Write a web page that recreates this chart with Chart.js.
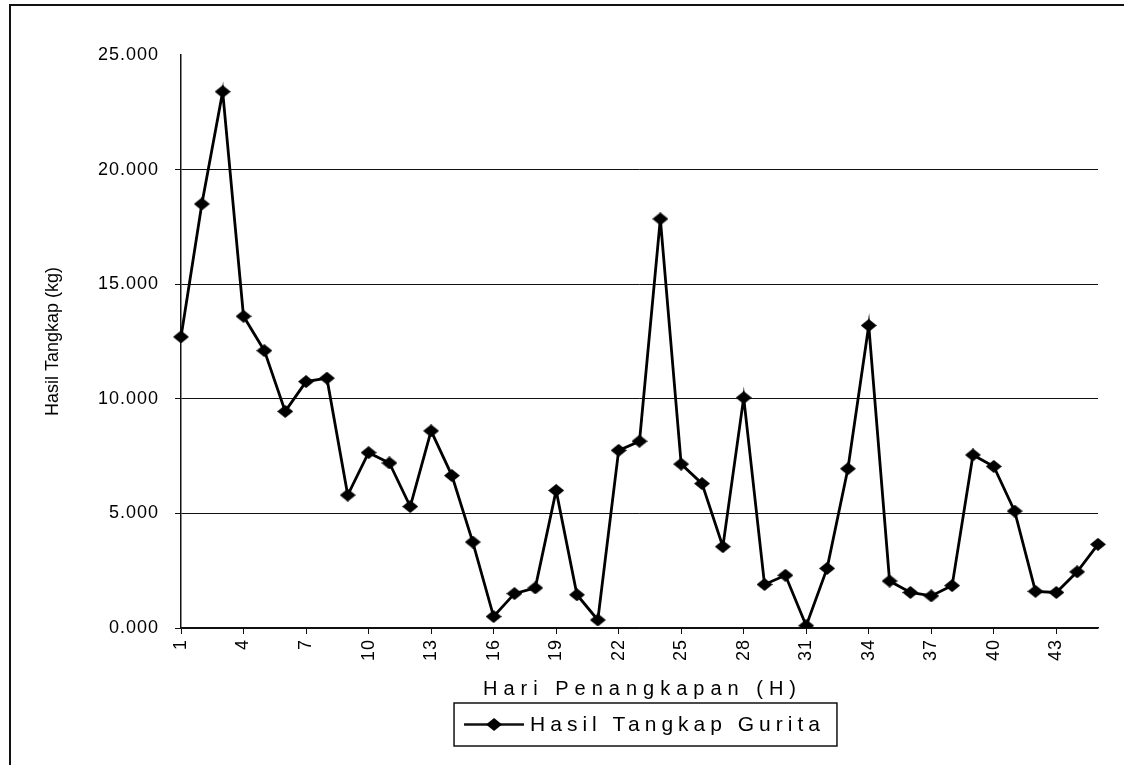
<!DOCTYPE html>
<html>
<head>
<meta charset="utf-8">
<script src="https://cdn.jsdelivr.net/npm/chart.js@4.4.0/dist/chart.umd.min.js"></script>
<style>
  html, body { margin: 0; padding: 0; background: #fff; }
  #wrap { position: relative; width: 1137px; height: 765px; overflow: hidden; }
  #frame { position: absolute; left: 9px; top: 4px; width: 1113px; height: 780px;
           border-left: 2px solid #111; border-top: 2px solid #111; pointer-events: none; }
</style>
</head>
<body>
<div id="wrap">
  <canvas id="chart" width="1137" height="765"></canvas>
  <div id="frame"></div>
</div>
<script>
// hari penangkapan 1..45
const days = ['1','2','3','4','5','6','7','8','9','10','11','12','13','14','15','16','17','18','19','20',
  '21','22','23','24','25','26','27','28','29','30','31','32','33','34','35','36','37','38','39','40',
  '41','42','43','44','45']
// hasil tangkap gurita (kg) per hari
const hasilTangkap = [12.7, 18.5, 23.4, 13.6, 12.1, 9.45, 10.75, 10.9, 5.8, 7.65,
  7.2, 5.3, 8.6, 6.65, 3.75, 0.5, 1.5, 1.75, 6.0, 1.45,
  0.35, 7.75, 8.15, 17.85, 7.15, 6.3, 3.55, 10.05, 1.9, 2.3,
  0.1, 2.6, 6.95, 13.2, 2.05, 1.55, 1.4, 1.85, 7.55, 7.05,
  5.1, 1.6, 1.55, 2.45, 3.65]
// label sumbu x yang ditampilkan
const shownDays = ['1','4','7','10','13','16','19','22','25','28','31','34','37','40','43']
const yTicks = [0, 5, 10, 15, 20, 25]

const seriesName = 'Hasil Tangkap Gurita'
const xTitle = 'Hari Penangkapan (H)'
const yTitle = 'Hasil Tangkap (kg)'
const FONT = 'Arial, "Liberation Sans", sans-serif'

// diamond marker (agak pipih)
const makeDiamond = (w, h) => {
    const c = document.createElement('canvas')
    c.width = w
    c.height = h
    const g = c.getContext('2d')
    g.fillStyle = '#000'
    g.beginPath()
    g.moveTo(w / 2, 0)
    g.lineTo(w, h / 2)
    g.lineTo(w / 2, h)
    g.lineTo(0, h / 2)
    g.closePath()
    g.fill()
    return c
}
const diamond = makeDiamond(16, 13)

// letter spacing for tick labels + custom x title and boxed legend
const textPlugin = {
    id: 'textPlugin',
    beforeDraw: (chart) => {
        chart.ctx.letterSpacing = '0px'
    },
    afterDatasetsDraw: (chart) => {
        chart.ctx.letterSpacing = '1px'   // tick labels are drawn after this (z: 1)
    },
    afterDraw: (chart) => {
        const ctx = chart.ctx
        const a = chart.chartArea
        const cx = (a.left + a.right) / 2
        ctx.save()
        ctx.fillStyle = '#000'

        // x axis title
        ctx.letterSpacing = '6px'
        ctx.font = '20px ' + FONT
        ctx.textAlign = 'center'
        ctx.textBaseline = 'middle'
        ctx.fillText(xTitle, cx + 3, a.bottom + 61)

        // legend in a box
        ctx.letterSpacing = '5px'
        ctx.font = '21px ' + FONT
        const tw = ctx.measureText(seriesName).width
        const bw = 76 + tw + 12
        const bh = 43
        const bx = cx + 6 - bw / 2
        const by = a.bottom + 75
        ctx.strokeStyle = '#111'
        ctx.lineWidth = 1.5
        ctx.strokeRect(bx, by, bw, bh)
        const my = by + bh / 2
        ctx.beginPath()
        ctx.lineWidth = 2.5
        ctx.moveTo(bx + 10, my)
        ctx.lineTo(bx + 70, my)
        ctx.stroke()
        ctx.drawImage(diamond, bx + 40 - diamond.width / 2, my - diamond.height / 2)
        ctx.textAlign = 'left'
        ctx.fillText(seriesName, bx + 76, my + 1)

        ctx.letterSpacing = '0px'
        ctx.restore()
    }
}

const ctx = document.getElementById('chart').getContext('2d')

const chart = new Chart(ctx, {
    type: 'line',
    data: {
        labels: days,
        datasets: [{
            label: seriesName,
            data: hasilTangkap,
            borderColor: '#000',
            borderWidth: 2.8,
            tension: 0,
            fill: false,
            pointStyle: diamond,
            pointRadius: 7,
            pointBackgroundColor: '#000',
            pointBorderColor: '#000'
        }]
    },
    options: {
        responsive: false,
        animation: false,
        layout: {
            padding: { left: 30, right: 39, top: 55, bottom: 97 }
        },
        plugins: {
            legend: { display: false },
            tooltip: { enabled: false }
        },
        scales: {
            x: {
                grid: { drawOnChartArea: false, drawTicks: true, tickLength: 6, color: '#111', lineWidth: 1 },
                border: { color: '#111', width: 1.5 },
                ticks: {
                    autoSkip: false,
                    minRotation: 90,
                    maxRotation: 90,
                    padding: 5,
                    color: '#000',
                    z: 1,
                    font: { family: FONT, size: 18 },
                    callback: function (val) {
                        const lbl = this.getLabelForValue(val)
                        return shownDays.includes(lbl) ? lbl : null
                    }
                },
                afterFit: (scale) => { scale.height = 40 }
            },
            y: {
                min: yTicks[0],
                max: yTicks[yTicks.length - 1],
                afterBuildTicks: (scale) => { scale.ticks = yTicks.map(v => ({ value: v })) },
                ticks: {
                    padding: 16,
                    color: '#000',
                    z: 1,
                    font: { family: FONT, size: 18 },
                    callback: (v) => Number(v).toFixed(3)
                },
                grid: {
                    color: (c) => (c.tick && c.tick.value === 25) ? 'rgba(0,0,0,0)' : '#111',
                    lineWidth: 1,
                    tickLength: 6
                },
                border: { color: '#111', width: 1.5 },
                title: {
                    display: true,
                    text: yTitle,
                    color: '#000',
                    font: { family: FONT, size: 18 },
                    padding: { top: 12, bottom: 0 }
                },
                afterFit: (scale) => { scale.width = 151 }
            }
        }
    },
    plugins: [textPlugin]
})
</script>
</body>
</html>
